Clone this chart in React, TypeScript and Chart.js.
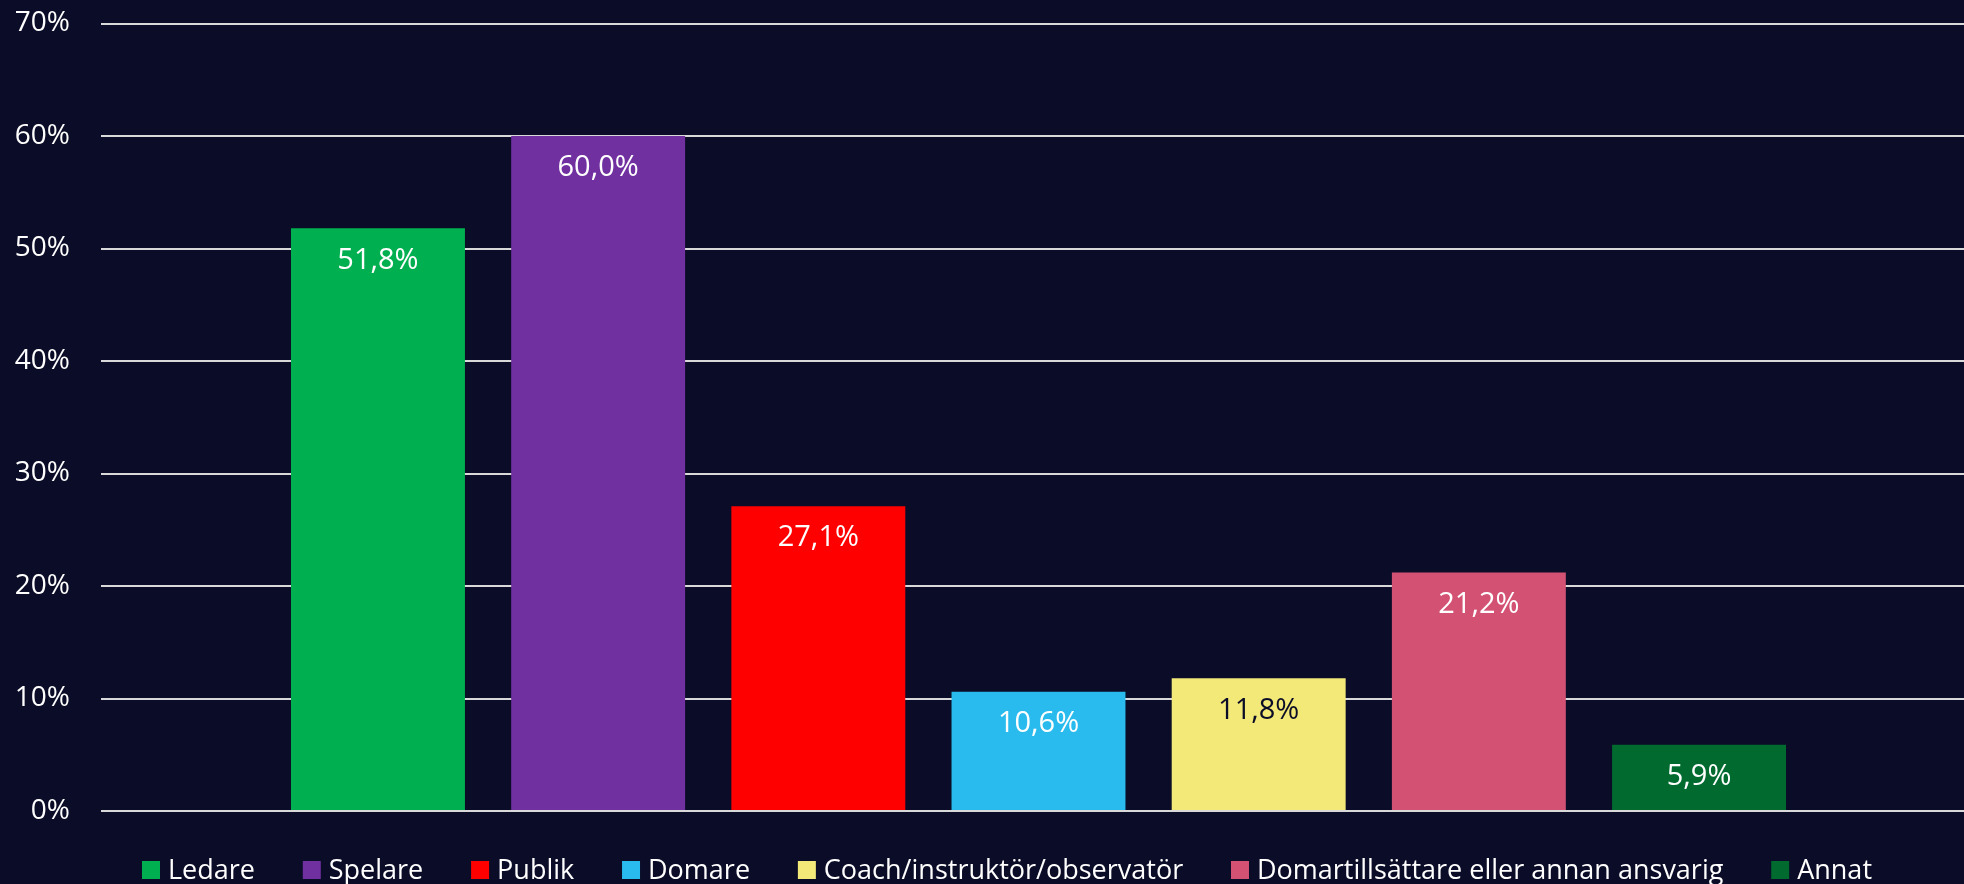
import React, { useEffect, useRef } from "react";
import { Chart, registerables } from "chart.js";

Chart.register(...registerables);

const seriesNames = [
  "Ledare",
  "Spelare",
  "Publik",
  "Domare",
  "Coach/instruktör/observatör",
  "Domartillsättare eller annan ansvarig",
  "Annat",
];
const seriesValues = [51.8, 60.0, 27.1, 10.6, 11.8, 21.2, 5.9];
const seriesColors = ["#00b050", "#7030a0", "#ff0000", "#29bbed", "#f3e978", "#d35274", "#006a2f"];
const labelColors = ["#ffffff", "#ffffff", "#ffffff", "#ffffff", "#0b0c27", "#ffffff", "#ffffff"];
const categories = [""];
const yTicks = [0, 10, 20, 30, 40, 50, 60, 70];

const BG = "#0b0c27";
const FONT = "'Open Sans', sans-serif";

const valueLabels = {
  id: "valueLabels",
  afterDatasetsDraw(chart: any) {
    const ctx = chart.ctx;
    ctx.save();
    ctx.font = `29px ${FONT}`;
    ctx.textAlign = "center";
    ctx.textBaseline = "middle";
    chart.data.datasets.forEach((ds: any, i: number) => {
      const meta = chart.getDatasetMeta(i);
      meta.data.forEach((bar: any, j: number) => {
        const v = ds.data[j];
        ctx.fillStyle = labelColors[i];
        ctx.fillText(v.toFixed(1).replace(".", ",") + "%", bar.x, bar.y + 32);
      });
    });
    ctx.restore();
  },
};

// Legend drawn below the plot, spread between fixed left/right edges
const customLegend = {
  id: "customLegend",
  afterDraw(chart: any) {
    const ctx = chart.ctx;
    ctx.save();
    ctx.font = `27px ${FONT}`;
    ctx.textBaseline = "middle";
    ctx.textAlign = "left";
    const box = 18;
    const gap = 8;
    const left = 142;
    const right = 1872;
    const y = 870;
    const widths = seriesNames.map((n) => box + gap + ctx.measureText(n).width);
    const total = widths.reduce((a, b) => a + b, 0);
    const spacing = (right - left - total) / (seriesNames.length - 1);
    let x = left;
    seriesNames.forEach((n, i) => {
      ctx.fillStyle = seriesColors[i];
      ctx.fillRect(x, y - box / 2, box, box);
      ctx.fillStyle = "#ffffff";
      ctx.fillText(n, x + box + gap, y + 1);
      x += widths[i] + spacing;
    });
    ctx.restore();
  },
};

export default function App() {
  const ref = useRef<HTMLCanvasElement>(null);
  useEffect(() => {
    const chart = new Chart(ref.current!, {
      type: "bar",
      data: {
        labels: categories,
        datasets: seriesNames.map((name, i) => ({
          label: name,
          data: [seriesValues[i]],
          backgroundColor: seriesColors[i],
          borderWidth: 0,
          categoryPercentage: 0.822,
          barPercentage: 0.79,
        })),
      },
      options: {
        animation: false,
        responsive: true,
        maintainAspectRatio: false,
        layout: { padding: { top: 0, right: 0, left: 0, bottom: 65 } },
        plugins: {
          tooltip: { enabled: false },
          legend: { display: false },
        },
        scales: {
          x: {
            ticks: { display: false },
            grid: { display: false },
            border: { display: false },
          },
          y: {
            min: 0,
            max: 70,
            afterBuildTicks: (axis: any) => {
              axis.ticks = yTicks.map((v) => ({ value: v }));
            },
            afterFit: (axis: any) => {
              axis.width = 101;
              axis.paddingTop = 23.5;
              axis.paddingBottom = 0;
            },
            ticks: {
              color: "#ffffff",
              font: { family: FONT, size: 28 },
              padding: 31,
              callback: (v: any) => v + "%",
            },
            grid: { color: "#d9d9d9", lineWidth: 2, drawTicks: false },
            border: { display: false },
          },
        },
      },
      plugins: [valueLabels, customLegend],
    });
    return () => chart.destroy();
  }, []);
  return (
    <div style={{ position: "fixed", left: 0, top: 0, width: 1964, height: 884, background: BG, overflow: "hidden" }}>
      <div style={{ position: "absolute", left: 0, top: 0, width: 1976, height: 884 }}>
        <canvas ref={ref} />
      </div>
    </div>
  );
}
